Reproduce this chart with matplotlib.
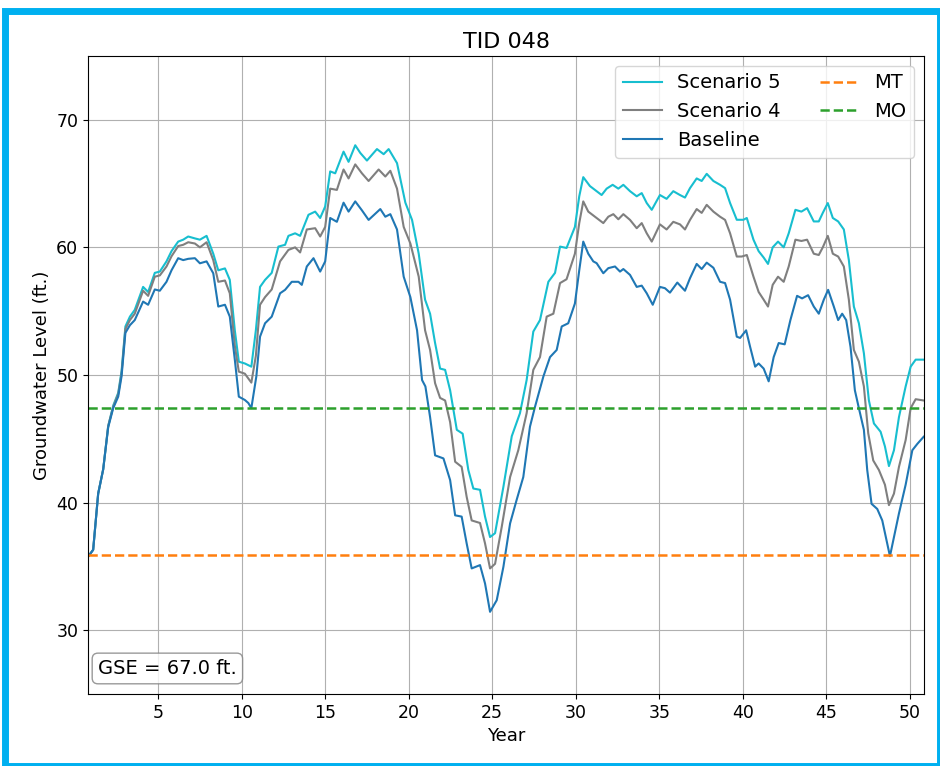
# Groundwater level hydrograph for well TID 048
import matplotlib
matplotlib.use("Agg")
from matplotlib import pyplot as plt
from matplotlib.patches import Rectangle


# Baseline run
base_year = [0.83, 1.11, 1.41, 1.71, 2.01, 2.31, 2.61, 2.81, 3.04, 3.31, 3.6, 4.1, 4.4, 4.8,
             5.1, 5.5, 5.8, 6.2, 6.5, 6.8, 7.2, 7.5, 7.9, 8.3, 8.6, 9.0, 9.29, 9.59, 9.83,
             10.19, 10.4, 10.58, 10.88, 11.1, 11.4, 11.8, 12.3, 12.6, 13.0, 13.4, 13.6, 13.9,
             14.3, 14.7, 15.0, 15.3, 15.7, 16.1, 16.4, 16.8, 17.2, 17.6, 18.3, 18.6, 18.9,
             19.3, 19.7, 20.1, 20.5, 20.8, 21.0, 21.28, 21.58, 22.08, 22.48, 22.78, 23.17,
             23.47, 23.77, 24.27, 24.57, 24.87, 25.27, 25.67, 26.07, 26.46, 26.86, 27.26,
             27.56, 28.06, 28.46, 28.86, 29.16, 29.55, 29.95, 30.21, 30.45, 30.75, 31.05,
             31.25, 31.65, 31.95, 32.35, 32.65, 32.85, 33.25, 33.65, 33.95, 34.25, 34.61,
             35.04, 35.34, 35.64, 36.08, 36.54, 36.84, 37.24, 37.54, 37.84, 38.24, 38.64,
             38.94, 39.24, 39.64, 39.84, 40.2, 40.44, 40.74, 40.95, 41.25, 41.55, 41.85,
             42.15, 42.51, 42.85, 43.25, 43.55, 43.91, 44.25, 44.55, 44.85, 45.11, 45.45,
             45.71, 45.95, 46.19, 46.45, 46.71, 46.95, 47.25, 47.45, 47.71, 48.05, 48.35,
             48.65, 48.81, 49.05, 49.35, 49.75, 50.15, 50.45, 50.83]
base_level = [35.8, 36.3, 40.7, 42.6, 45.9, 47.4, 48.3, 49.9, 53.3, 53.9, 54.3, 55.75, 55.5, 56.7,
              56.6, 57.3, 58.2, 59.15, 59.0, 59.1, 59.15, 58.75, 58.9, 57.97, 55.36, 55.5, 54.57,
              51.2, 48.3, 48.04, 47.8, 47.4, 49.9, 53.0, 54.05, 54.57, 56.4, 56.67, 57.3, 57.3,
              57.06, 58.5, 59.15, 58.1, 58.9, 62.3, 62.0, 63.5, 62.8, 63.6, 62.9, 62.15, 63.0,
              62.4, 62.6, 61.4, 57.7, 56.1, 53.5, 49.6, 49.1, 46.7, 43.7, 43.46, 41.76, 39.0,
              38.9, 36.8, 34.84, 35.1, 33.66, 31.44, 32.35, 34.97, 38.37, 40.2, 42.0, 45.95,
              47.5, 49.87, 51.4, 51.96, 53.8, 54.05, 55.6, 58.2, 60.45, 59.5, 58.9, 58.76,
              57.97, 58.37, 58.5, 58.1, 58.3, 57.84, 56.9, 57.0, 56.4, 55.5, 56.9, 56.8,
              56.45, 57.24, 56.6, 57.58, 58.7, 58.3, 58.8, 58.4, 57.3, 57.2, 55.9, 53.0,
              52.9, 53.5, 52.2, 50.65, 50.9, 50.5, 49.5, 51.4, 52.5, 52.4, 54.3, 56.2, 56.0,
              56.25, 55.36, 54.8, 55.9, 56.67, 55.36, 54.3, 54.8, 54.3, 52.2, 48.8, 47.4,
              45.7, 42.55, 39.9, 39.5, 38.6, 36.8, 35.8, 37.3, 39.15, 41.4, 44.1, 44.6, 45.16]

# Scenario 4
s4_year = [0.83, 1.11, 1.41, 1.71, 2.01, 2.31, 2.61, 2.81, 3.04, 3.31, 3.6, 4.1, 4.4, 4.8,
           5.1, 5.5, 5.8, 6.2, 6.5, 6.8, 7.2, 7.5, 7.9, 8.3, 8.6, 9.0, 9.29, 9.59, 9.83,
           10.19, 10.58, 10.85, 11.1, 11.4, 11.8, 12.3, 12.8, 13.2, 13.5, 13.9, 14.4, 14.7,
           15.0, 15.3, 15.7, 16.1, 16.4, 16.8, 17.2, 17.6, 18.2, 18.6, 18.9, 19.3, 19.7,
           20.1, 20.6, 20.98, 21.28, 21.58, 21.88, 22.18, 22.48, 22.78, 23.17, 23.47, 23.77,
           24.27, 24.57, 24.87, 25.17, 25.57, 26.07, 26.56, 27.06, 27.46, 27.86, 28.26,
           28.66, 29.06, 29.45, 29.95, 30.21, 30.45, 30.75, 31.25, 31.65, 31.95, 32.25,
           32.55, 32.85, 33.25, 33.65, 33.95, 34.25, 34.55, 35.04, 35.44, 35.84, 36.24,
           36.54, 36.84, 37.24, 37.54, 37.84, 38.24, 38.64, 38.94, 39.24, 39.64, 39.94,
           40.24, 40.64, 40.95, 41.25, 41.51, 41.79, 42.11, 42.45, 42.75, 43.15, 43.51,
           43.85, 44.25, 44.55, 44.79, 45.09, 45.39, 45.71, 46.05, 46.35, 46.65, 46.95,
           47.25, 47.51, 47.81, 48.15, 48.51, 48.75, 49.05, 49.35, 49.75, 50.05, 50.35, 50.83]
s4_level = [35.8, 36.3, 40.7, 42.6, 46.0, 47.5, 48.5, 50.1, 53.6, 54.3, 54.8, 56.6, 56.2, 57.7,
            57.8, 58.5, 59.3, 60.1, 60.2, 60.4, 60.3, 60.0, 60.4, 59.0, 57.3, 57.4, 56.4,
            52.3, 50.26, 50.1, 49.4, 51.5, 55.5, 56.1, 56.7, 58.9, 59.8, 60.0, 59.6, 61.4,
            61.5, 60.85, 61.6, 64.6, 64.5, 66.1, 65.4, 66.5, 65.8, 65.2, 66.1, 65.55, 66.0,
            64.6, 61.6, 60.3, 57.7, 53.5, 51.96, 49.35, 48.2, 48.0, 46.3, 43.2, 42.8, 40.45,
            38.6, 38.4, 36.8, 34.84, 35.2, 38.1, 42.0, 44.1, 47.0, 50.4, 51.4, 54.57, 54.8,
            57.2, 57.5, 59.5, 61.9, 63.6, 62.8, 62.3, 61.9, 62.4, 62.6, 62.2, 62.6, 62.15,
            61.5, 61.9, 61.1, 60.45, 61.8, 61.4, 62.0, 61.8, 61.4, 62.15, 63.0, 62.7, 63.33,
            62.8, 62.4, 62.15, 61.1, 59.28, 59.28, 59.4, 57.7, 56.5, 55.9, 55.36, 57.06,
            57.7, 57.3, 58.5, 60.6, 60.5, 60.6, 59.5, 59.4, 60.0, 60.9, 59.5, 59.28, 58.5,
            55.9, 51.96, 51.04, 49.1, 45.43, 43.3, 42.55, 41.4, 39.8, 40.7, 42.8, 44.9,
            47.4, 48.1, 48.0]

# Scenario 5
s5_year = [0.83, 1.11, 1.41, 1.71, 2.01, 2.31, 2.61, 2.81, 3.04, 3.31, 3.6, 4.1, 4.4, 4.8,
           5.1, 5.5, 5.8, 6.2, 6.5, 6.8, 7.2, 7.5, 7.9, 8.3, 8.6, 9.0, 9.29, 9.59, 9.83,
           10.19, 10.58, 10.85, 11.1, 11.4, 11.8, 12.2, 12.6, 12.8, 13.2, 13.5, 14.0, 14.4,
           14.7, 15.0, 15.3, 15.6, 16.1, 16.4, 16.8, 17.1, 17.5, 18.1, 18.5, 18.8, 19.3,
           19.8, 20.2, 20.6, 20.98, 21.28, 21.58, 21.88, 22.18, 22.48, 22.88, 23.23, 23.57,
           23.87, 24.27, 24.57, 24.87, 25.17, 25.67, 26.17, 26.66, 27.06, 27.46, 27.86,
           28.36, 28.76, 29.06, 29.45, 29.95, 30.21, 30.45, 30.85, 31.25, 31.55, 31.85,
           32.21, 32.55, 32.85, 33.25, 33.65, 33.95, 34.25, 34.55, 35.04, 35.44, 35.84,
           36.24, 36.54, 36.84, 37.24, 37.54, 37.84, 38.24, 38.64, 38.94, 39.24, 39.64,
           40.04, 40.24, 40.64, 40.95, 41.25, 41.51, 41.79, 42.11, 42.45, 42.75, 43.15,
           43.51, 43.85, 44.25, 44.55, 44.79, 45.09, 45.39, 45.71, 46.05, 46.35, 46.65,
           46.95, 47.25, 47.55, 47.85, 48.25, 48.51, 48.75, 49.05, 49.35, 49.75, 50.05,
           50.35, 50.83]
s5_level = [35.8, 36.3, 40.7, 42.6, 46.0, 47.6, 48.6, 50.3, 53.8, 54.57, 55.1, 56.9, 56.5, 58.0,
            58.1, 58.9, 59.7, 60.45, 60.6, 60.85, 60.7, 60.6, 60.9, 59.5, 58.2, 58.35, 57.45,
            53.5, 51.04, 50.9, 50.65, 53.5, 56.9, 57.45, 58.0, 60.06, 60.2, 60.9, 61.1, 60.9,
            62.55, 62.8, 62.3, 63.2, 65.95, 65.8, 67.5, 66.7, 68.0, 67.4, 66.8, 67.7, 67.3,
            67.7, 66.6, 63.5, 62.15, 59.5, 55.9, 54.8, 52.5, 50.5, 50.4, 48.8, 45.7, 45.4,
            42.55, 41.1, 41.0, 38.9, 37.3, 37.6, 41.24, 45.2, 47.0, 49.6, 53.4, 54.3, 57.3,
            58.0, 60.06, 59.95, 61.6, 64.0, 65.5, 64.8, 64.4, 64.1, 64.6, 64.9, 64.6, 64.9,
            64.4, 64.0, 64.25, 63.47, 62.94, 64.1, 63.8, 64.4, 64.1, 63.9, 64.64, 65.4, 65.2,
            65.76, 65.2, 64.9, 64.64, 63.47, 62.16, 62.16, 62.3, 60.6, 59.7, 59.2, 58.7,
            60.0, 60.45, 60.0, 61.1, 62.94, 62.8, 63.07, 62.03, 62.03, 62.7, 63.47, 62.3,
            62.03, 61.4, 59.0, 55.36, 54.05, 51.7, 48.0, 46.2, 45.55, 44.4, 42.86, 44.1,
            46.7, 49.1, 50.65, 51.2, 51.2]

# Thresholds and ground surface elevation
mt_level = 35.9
mo_level = 47.4
gse = 67.0

fig = plt.figure(figsize=(9.4, 7.66), dpi=100)
ax = fig.add_axes([0.0936, 0.094, 0.8894, 0.833])

ax.plot(s5_year, s5_level, color='tab:cyan', lw=1.5, label='Scenario 5')
ax.plot(s4_year, s4_level, color='tab:gray', lw=1.5, label='Scenario 4')
ax.plot(base_year, base_level, color='tab:blue', lw=1.5, label='Baseline')
ax.axhline(mt_level, color='tab:orange', ls='--', lw=1.8, label='MT')
ax.axhline(mo_level, color='tab:green', ls='--', lw=1.8, label='MO')

ax.set_xlim(0.8, 50.85)
ax.set_ylim(25, 75)
ax.set_xticks(range(5, 51, 5))
ax.set_yticks(range(30, 71, 10))
ax.tick_params(labelsize=12.5)
ax.grid(True)
ax.set_title('TID 048', fontsize=16)
ax.set_xlabel('Year', fontsize=13)
ax.set_ylabel('Groundwater Level (ft.)', fontsize=13)
ax.legend(loc='upper right', ncol=2, fontsize=14)

ax.text(0.012, 0.04, 'GSE = %.1f ft.' % gse, transform=ax.transAxes, fontsize=14,
        va='center', ha='left',
        bbox=dict(boxstyle='round', facecolor='white', edgecolor='gray', alpha=0.8))

# blue frame around the figure
fig.patches.append(Rectangle((0.0048, 0.0), 0.9952, 0.9856, fill=False,
                             edgecolor='#00b0f0', lw=5, transform=fig.transFigure))

plt.savefig('out.png', dpi=100)
